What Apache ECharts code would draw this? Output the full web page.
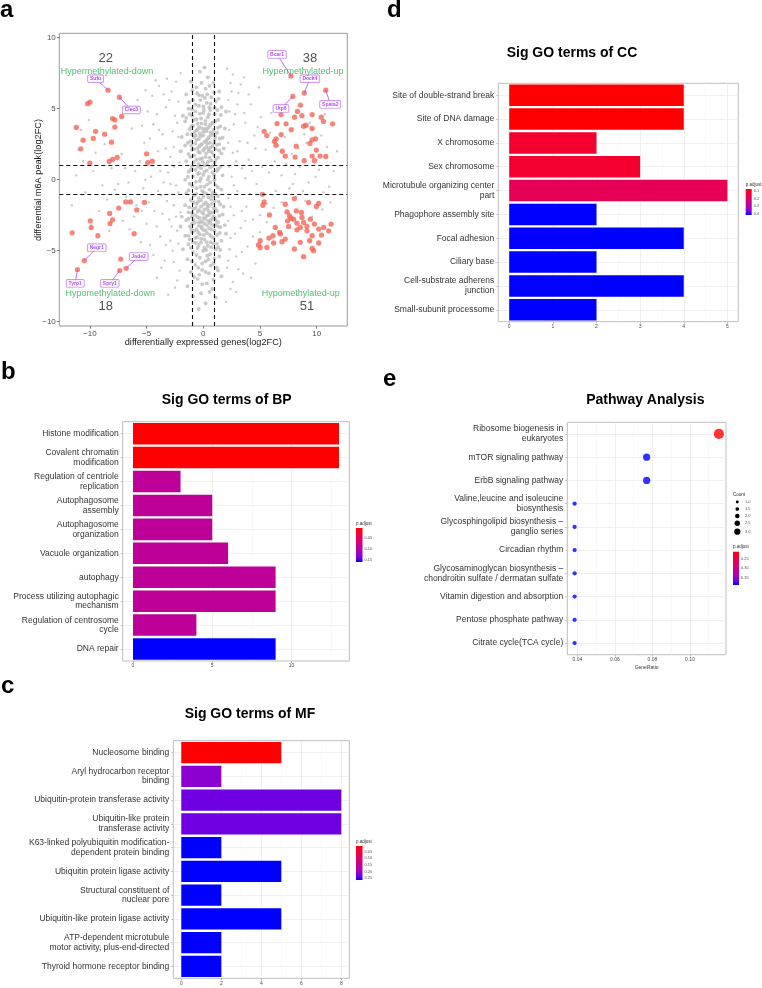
<!DOCTYPE html>
<html><head><meta charset="utf-8">
<script src="https://cdn.jsdelivr.net/npm/echarts@6/dist/echarts.min.js"></script>
<style>html,body{margin:0;padding:0;background:#fff}#c{width:762px;height:988px}</style>
</head><body><div id="c"></div>
<script>
// ---------------- Panel a data ----------------
const aTicks = [-10, -5, 0, 5, 10];
const grayDense = [
-0.3,7.6, 0.4,7.2, -1.1,6.9, 0.9,6.8, -0.6,6.5, 0.2,6.4, 1.4,6.2, -1.5,6.0, -0.1,5.9, 0.7,5.8, -0.9,5.6, 1.1,5.5, 0.3,5.4, -0.4,5.2, 1.6,5.1, -1.3,5.0, 0.6,4.9, -0.7,4.8, 0.0,4.7, 1.0,4.6, -1.0,4.5, 0.4,4.4, -0.2,4.3, 1.3,4.2, -1.6,4.1, 0.8,4.0, -0.5,3.95, 0.2,3.9, -0.9,3.8, 1.5,3.75, 0.5,3.7, -0.1,3.6, -1.2,3.55, 0.9,3.5, -0.6,3.45, 0.3,3.4, 1.2,3.3, -0.3,3.25, -1.4,3.2, 0.7,3.15, 0.0,3.1, -0.8,3.0, 1.7,2.95, 0.4,2.9, -0.4,2.85, 1.0,2.8, -1.1,2.7, 0.1,2.65, 0.6,2.6, -0.7,2.55, 1.4,2.5, -0.2,2.45, -1.6,2.4, 0.8,2.35, 0.3,2.3, -0.5,2.2, 1.1,2.15, -1.0,2.1, 0.0,2.05, 0.5,2.0, -0.3,1.9, 1.6,1.85, -1.3,1.8, 0.9,1.75, -0.8,1.7, 0.2,1.6, 1.3,1.55, -0.1,1.5, -0.6,1.4, 0.7,1.35, -1.5,1.3, 0.4,1.25, 1.0,1.2, -0.4,1.1, 0.1,1.0, -1.0,0.95, 1.5,0.9, 0.6,0.85, -0.2,0.8, -0.7,0.7, 0.3,0.65, 1.2,0.6, -1.3,0.55, 0.8,0.5, -0.5,0.4, 0.0,0.35, 1.7,0.3, -0.9,0.25, 0.5,0.2, -0.2,0.1, 1.0,0.05, -1.6,0.0,
-0.35,3.7, 0.15,3.55, 0.65,3.3, -0.65,3.1, 0.25,2.75, -0.15,2.5, 0.45,2.15, -0.45,1.95, 0.85,3.95, -0.85,4.2, 0.05,4.9, 0.55,5.1, -0.25,5.6, 0.35,6.0, -0.75,3.35, 1.05,3.0, -1.05,2.4, 0.75,1.95, -0.05,1.25, 0.95,2.55, -1.2,4.6, 1.25,4.9, -0.55,6.1, 0.1,7.9, 1.9,3.6, -1.9,3.0, 1.8,2.2, -1.8,4.5, 2.0,4.8, -2.0,2.0,
-0.15,6.8, 0.55,6.6, -0.95,6.3, 0.95,6.15, -0.4,5.95, 0.15,5.75, -1.25,5.45, 1.35,5.7, 0.65,5.35, -0.7,5.3, 0.0,5.15, 1.0,5.05, -1.0,4.95, -0.3,4.65, 0.5,4.6, 1.55,4.55, -1.5,4.35, -0.6,4.25, 0.2,4.15, 1.05,4.1, -0.15,3.95, 0.6,3.85, -1.05,3.75, 1.3,3.65, 0.35,3.6, -0.5,3.55, 0.0,3.35, 0.9,3.25, -1.0,3.2, -0.25,3.05, 0.5,3.0, 1.45,2.9, -0.6,2.8, -1.35,2.6, 0.35,2.55, 1.2,2.45, -0.35,2.35, 0.65,2.25, 0.1,2.2, -0.8,2.15, 1.4,2.05, 0.25,1.85, -1.15,1.6, 0.55,1.55, -0.3,1.45, 1.1,1.4, -0.85,1.25, 0.3,1.05, 0.8,0.95, -0.45,0.9, 1.3,0.75, -1.1,0.7, 0.1,0.55, -0.35,0.45, 0.95,0.35, -1.35,0.2, 0.4,0.0, -0.65,-0.15, 0.95,-0.05,
-0.3,-0.1, 0.6,-0.2, -1.2,-0.3, 1.1,-0.4, 0.1,-0.5, -0.6,-0.6, 1.6,-0.7, -0.1,-0.8, 0.8,-0.9, -1.5,-0.95, 0.3,-1.0, -0.8,-1.1, 1.3,-1.15, 0.0,-1.2, -0.4,-1.3, 0.7,-1.4, -1.1,-1.45, 1.0,-1.5, 0.2,-1.6, -0.6,-1.7, 1.5,-1.75, -1.6,-1.8, 0.5,-1.85, -0.2,-1.9, 0.9,-2.0, -0.9,-2.05, 0.1,-2.1, 1.2,-2.2, -0.5,-2.25, -1.3,-2.3, 0.6,-2.35, 0.0,-2.4, 1.7,-2.45, -0.7,-2.5, 0.3,-2.55, -1.0,-2.6, 1.0,-2.65, -0.3,-2.7, 0.7,-2.8, -1.5,-2.85, 0.4,-2.9, -0.1,-2.95, 1.3,-3.0, -0.8,-3.05, 0.1,-3.1, 0.8,-3.2, -0.4,-3.25, -1.2,-3.3, 1.5,-3.35, 0.5,-3.4, -0.6,-3.5, 0.0,-3.55, 1.0,-3.6, -1.0,-3.7, 0.3,-3.75, -0.3,-3.85, 1.2,-3.9, -1.6,-3.95, 0.7,-4.0, -0.7,-4.1, 0.1,-4.2, 1.6,-4.3, -0.2,-4.4, 0.9,-4.5, -1.3,-4.55, 0.4,-4.65, -0.5,-4.8, 1.1,-4.9, 0.0,-5.0, -0.9,-5.1, 0.6,-5.25, 1.4,-5.4, -0.3,-5.5, -1.4,-5.6, 0.2,-5.75, 0.9,-5.9, -0.7,-6.0, 1.2,-6.2, -0.1,-6.35, -1.1,-6.5, 0.5,-6.6, 1.6,-6.8, -0.5,-7.0, 0.3,-7.3, -1.4,-7.5, 0.8,-7.7, -0.2,-8.0, 1.1,-8.3,
-0.35,-2.15, 0.15,-2.75, 0.55,-3.05, -0.15,-3.4, 0.35,-1.75, -0.45,-1.55, 0.85,-2.6, -0.85,-2.85, 0.05,-3.9, 0.65,-4.4, -0.65,-4.45, 0.25,-4.95, -0.25,-3.0, 1.05,-3.15, -1.05,-3.5, 0.45,-2.2, -0.55,-4.05, 0.75,-1.15, -1.2,-4.2, 1.3,-4.75, -0.35,-6.7, 0.45,-5.6, 1.9,-3.2, -1.9,-2.6, 1.8,-1.9, -1.8,-4.9, 2.0,-3.8, -2.0,-3.3,
0.35,-0.35, -0.95,-0.45, 1.3,-0.55, -0.25,-0.5, 0.55,-0.7, -1.3,-0.75, 0.05,-0.9, 1.05,-1.0, -0.6,-1.0, 0.45,-1.25, -0.2,-1.45, 1.35,-1.55, -0.85,-1.6, 0.75,-1.7, 0.0,-1.75, -1.25,-1.95, 0.35,-2.0, 1.05,-2.05, -0.65,-2.0, -0.1,-2.3, 0.8,-2.3, -1.0,-2.35, 0.45,-2.5, 1.4,-2.55, -0.5,-2.65, 0.05,-2.7, -1.3,-2.75, 0.6,-2.95, 1.1,-2.85, -0.45,-3.0, -1.0,-3.1, 0.3,-3.2, 1.3,-3.3, -0.15,-3.3, 0.75,-3.5, -0.8,-3.6, 0.2,-3.55, 1.45,-3.75, -0.45,-3.7, 0.55,-3.85, -1.3,-3.95, 0.9,-4.1, -0.2,-4.15, 0.3,-4.4, -0.9,-4.4, 1.2,-4.5, -0.4,-4.6, 0.7,-4.75, -1.1,-4.8, 0.1,-4.8, 1.5,-4.95, -0.6,-5.3, 0.35,-5.35, 1.0,-5.55, -1.0,-5.75, -0.1,-5.9, 0.65,-6.05, -0.45,-6.2, 1.3,-6.4, 0.2,-6.5, -0.8,-6.85, 0.9,-7.05, -0.1,-7.35, 0.55,-7.9, -0.9,-8.2, 0.2,-8.7, -0.4,-9.1
];
const graySparse = [
-5.8,5.6, -4.9,4.8, -3.9,6.6, -2.8,6.2, -3.3,5.1, -4.4,3.9, -2.5,4.5, -3.6,3.2, -5.2,2.6, -2.2,3.0, -4.0,2.0, -2.9,1.6, -5.6,1.3, -3.1,0.5, -4.6,0.2, -2.4,-0.4, -5.3,-0.6, -3.7,-1.1, -2.6,-1.8, -4.3,-2.2, -3.0,-2.8, -5.0,-3.1, -2.3,-3.6, -3.8,-4.0, -4.7,-4.6, -2.7,-5.0, -3.4,-5.7, -2.1,-6.4, -4.1,-6.9, -2.5,-7.6, -6.1,-2.6, -5.5,-4.4, -6.3,3.6, -6.0,0.6, -3.2,7.1, -2.0,7.5, -4.5,5.9, -2.2,5.5, -2.6,2.3, -3.5,-0.2, -2.0,-2.3, -2.9,-4.3, -6.8,-1.2, -7.2,1.8, -7.5,-0.3,
2.4,6.8, 3.1,6.1, 2.2,5.6, 4.2,5.3, 2.8,4.6, 3.7,4.0, 5.1,4.4, 2.3,3.5, 4.5,3.1, 3.2,2.7, 5.5,2.1, 2.6,1.9, 4.0,1.4, 3.4,0.8, 5.8,0.5, 2.5,0.2, 4.7,-0.3, 3.0,-0.8, 5.3,-1.0, 2.2,-1.3, 3.8,-1.9, 2.7,-2.5, 4.4,-2.8, 3.3,-3.4, 5.0,-3.7, 2.4,-4.1, 3.9,-4.7, 2.9,-5.4, 4.6,-5.9, 2.1,-6.2, 3.5,-6.6, 2.6,-7.2, 6.4,-0.8, 6.9,0.3, 5.9,3.3, 6.2,-2.0, 2.1,7.8, 3.6,7.2, 2.9,-7.9, 2.0,-8.6, 4.9,6.5, 7.3,1.1, 7.6,-0.6, 6.6,2.4,
-5.1,6.3, -4.2,7.0, -3.5,6.0, -2.4,6.9, -3.0,5.6, -4.1,4.6, -2.3,4.0, -3.9,3.5, -5.4,3.8, -2.7,3.4, -4.7,2.9, -3.3,2.2, -2.1,1.2, -4.5,1.0, -3.8,0.6, -2.6,0.9, -5.1,0.0, -2.9,-0.3, -4.0,-0.8, -2.2,-0.9, -3.2,-1.5, -4.8,-1.6, -2.4,-2.6, -3.6,-2.4, -5.4,-2.2, -2.8,-3.3, -4.1,-3.3, -2.2,-4.5, -3.3,-4.6, -4.4,-5.3, -2.6,-5.8, -3.7,-6.2, -2.3,-7.1, -3.1,-8.1, -5.9,-1.8, -6.5,-3.5, -6.9,0.8,
2.6,7.4, 3.3,6.7, 2.5,6.2, 4.0,6.0, 3.0,5.3, 2.3,4.8, 3.6,4.7, 4.8,3.7, 2.7,3.9, 3.9,2.6, 2.2,2.6, 3.0,2.0, 4.6,2.2, 2.9,1.3, 4.3,0.6, 2.3,0.9, 3.7,0.1, 5.2,0.9, 2.7,-0.4, 4.1,-1.0, 2.4,-1.9, 3.4,-2.2, 5.0,-2.5, 2.2,-2.9, 3.7,-2.9, 2.8,-3.8, 4.4,-4.0, 2.3,-4.9, 3.4,-5.1, 2.2,-5.7, 3.1,-6.3, 4.2,-6.9, 2.4,-7.7, 5.6,-1.7, 6.3,1.3, 5.6,-3.0, 6.0,4.7,
-9.7,0.6, -8.9,-0.4, -10.4,-0.9, -11.2,0.3, -8.1,0.8, -9.5,1.9, -10.8,3.5, -8.5,-1.4, -7.8,-0.7, -11.6,-1.8, -9.2,-2.2, -8.7,2.5, -10.1,4.2, -7.1,-2.9, -9.9,-3.2, -11.0,2.1, -8.3,-3.6, -6.6,-0.2, -10.6,1.3,
8.1,0.4, 9.3,-0.2, 10.2,0.7, 11.1,-0.5, 8.8,-0.8, 9.9,0.2, 7.9,-0.3, 10.6,-0.9, 8.5,0.9, 11.5,0.6, 9.1,2.6, 10.4,3.1, 8.4,2.2, 9.6,3.6, 10.9,2.3, 7.2,3.0, 9.0,-1.5, 10.5,-2.1, 8.2,-1.2, 11.2,-1.6, 9.6,-2.6, 7.5,-2.4, 10.0,1.4, 11.8,2.0, 8.9,3.2, 7.8,1.8, 6.9,-1.6, 9.4,4.0, 10.7,4.6
];
const redUL = [[-8.4,6.3],[-7.4,5.8],[-10.2,5.35],[-10.0,5.45],[-7.2,4.45],[-8.0,4.3],[-7.8,4.2],[-11.2,3.67],[-7.8,3.7],[-9.5,3.4],[-10.6,2.78],[-9.7,2.9],[-8.1,2.64],[-10.8,2.17],[-5.0,1.82],[-10.0,1.17],[-8.3,1.28],[-8.0,1.42],[-7.6,1.56],[-4.9,1.19],[-4.5,1.3],[-8.7,3.2]];
const redUR = [[7.73,7.3],[8.9,6.1],[10.8,6.3],[7.9,5.86],[6.85,4.58],[8.56,5.25],[8.7,4.5],[8.05,4.4],[9.6,4.58],[8.85,3.76],[9.06,3.83],[6.5,3.95],[7.3,3.93],[7.76,3.52],[10.4,4.39],[10.6,4.1],[11.4,3.93],[9.6,3.6],[5.37,3.4],[5.6,3.1],[6.43,2.87],[6.87,3.17],[6.28,2.7],[6.4,2.42],[6.96,2.0],[8.2,2.35],[9.4,2.55],[9.9,2.87],[9.6,2.8],[7.23,1.66],[8.1,1.59],[8.9,1.33],[9.6,1.66],[9.8,1.33],[10.3,1.66],[10.8,1.63],[9.97,2.08],[8.3,4.8]];
const redLL = [[-10.5,-5.7],[-6.8,-6.24],[-7.28,-5.59],[-11.1,-6.33],[-7.37,-6.4],[-6.84,-1.57],[-6.43,-1.57],[-5.2,-1.6],[-7.46,-2.0],[-5.87,-2.13],[-8.26,-2.38],[-8.0,-2.83],[-8.23,-3.09],[-9.97,-2.9],[-9.88,-3.37],[-9.3,-3.95],[-6.1,-3.8],[-11.56,-3.74]];
const redLR = [[5.22,-1.03],[5.37,-1.57],[5.26,-1.8],[5.84,-2.48],[7.23,-1.73],[7.38,-2.27],[7.61,-2.55],[8.03,-1.33],[8.2,-2.2],[8.65,-2.31],[9.29,-1.61],[9.97,-1.89],[10.18,-1.68],[7.73,-2.73],[7.43,-2.9],[7.96,-2.78],[8.26,-3.06],[8.7,-2.66],[8.85,-3.01],[9.14,-3.29],[9.44,-2.78],[9.8,-3.13],[10.18,-3.48],[10.62,-3.36],[11.27,-3.13],[11.06,-3.6],[10.42,-3.9],[9.6,-3.95],[9.14,-3.6],[8.55,-3.36],[8.26,-3.53],[7.52,-3.29],[6.73,-3.71],[6.35,-3.36],[6.14,-3.95],[5.79,-4.11],[5.61,-4.77],[5.02,-4.3],[4.87,-4.6],[5.02,-4.79],[6.2,-4.46],[6.94,-4.37],[7.23,-4.18],[8.03,-4.88],[8.55,-4.41],[9.38,-4.3],[9.6,-4.84],[9.73,-5.0],[10.18,-4.46],[8.85,-5.42],[6.8,-3.83]];
const geneNames = ['Bcar1','Dock4','Spata2','Utp6','Sufu','Clec3','Negr1','Jade2','Tyrp1','Spry1'];
const geneLabelX = [6.5, 9.4, 11.2, 6.85, -9.5, -6.35, -9.4, -5.7, -11.3, -8.25];
const geneLabelY = [8.8, 7.1, 5.3, 5.0, 7.1, 4.9, -4.8, -5.4, -7.3, -7.3];
const genePointX = [7.73, 8.9, 10.8, 7.9, -8.4, -7.4, -10.5, -6.8, -11.1, -7.37];
const genePointY = [7.3, 6.1, 6.3, 5.86, 6.3, 5.8, -5.7, -6.24, -6.33, -6.4];
const quadCounts = ['22', '38', '18', '51'];
const quadNames = ['Hypermethylated-down', 'Hypermethylated-up', 'Hypomethylated-down', 'Hypomethylated-up'];
const quadCountX = [-8.6, 9.4, -8.6, 9.15];
const quadCountY = [8.5, 8.5, -8.9, -8.9];
const quadNameX = [-8.5, 8.8, -8.2, 8.6];
const quadNameY = [7.6, 7.6, -8.0, -8.0];

// ---------------- Panel b (BP) ----------------
const bpTerms = ['Histone modification','Covalent chromatin\nmodification','Regulation of centriole\nreplication','Autophagosome\nassembly','Autophagosome\norganization','Vacuole organization','autophagy','Process utilizing autophagic\nmechanism','Regulation of centrosome\ncycle','DNA repair'];
const bpCount = [13, 13, 3, 5, 5, 6, 9, 9, 4, 9];
const bpPadj = [0.003, 0.003, 0.092, 0.092, 0.092, 0.092, 0.092, 0.092, 0.092, 0.159];
const bpTicks = [0, 5, 10];
const bpLegendTicks = [0.05, 0.10, 0.15];

// ---------------- Panel c (MF) ----------------
const mfTerms = ['Nucleosome binding','Aryl hydrocarbon receptor\nbinding','Ubiquitin-protein transferase activity','Ubiquitin-like protein\ntransferase activity','K63-linked polyubiquitin modification-\ndependent protein binding','Ubiquitin protein ligase activity','Structural constituent of\nnuclear pore','Ubiquitin-like protein ligase activity','ATP-dependent microtubule\nmotor activity, plus-end-directed','Thyroid hormone receptor binding'];
const mfCount = [5, 2, 8, 8, 2, 5, 2, 5, 2, 2];
const mfPadj = [0.007, 0.212, 0.232, 0.232, 0.263, 0.263, 0.263, 0.263, 0.263, 0.263];
const mfTicks = [0, 2, 4, 6, 8];
const mfLegendTicks = [0.05, 0.10, 0.15, 0.20, 0.25];

// ---------------- Panel d (CC) ----------------
const ccTerms = ['Site of double-strand break','Site of DNA damage','X chromosome','Sex chromosome','Microtubule organizing center\npart','Phagophore assembly site','Focal adhesion','Ciliary base','Cell-substrate adherens\njunction','Small-subunit processome'];
const ccCount = [4, 4, 2, 3, 5, 2, 4, 2, 4, 2];
const ccPadj = [0.07, 0.07, 0.112, 0.112, 0.165, 0.42, 0.42, 0.42, 0.42, 0.42];
const ccTicks = [0, 1, 2, 3, 4, 5];
const ccLegendTicks = [0.1, 0.2, 0.3, 0.4];

// ---------------- Panel e (pathway) ----------------
const pathTerms = ['Ribosome biogenesis in\neukaryotes','mTOR signaling pathway','ErbB signaling pathway','Valine,leucine and isoleucine\nbiosynthesis','Glycosphingolipid biosynthesis \u2013\nganglio series','Circadian rhythm','Glycosaminoglycan biosynthesis \u2013\nchondroitin sulfate / dermatan sulfate','Vitamin digestion and absorption','Pentose phosphate pathway','Citrate cycle(TCA cycle)'];
const pathRatio = [0.1154, 0.0769, 0.0769, 0.0385, 0.0385, 0.0385, 0.0385, 0.0385, 0.0385, 0.0385];
const pathCount = [3, 2, 2, 1, 1, 1, 1, 1, 1, 1];
const pathPadj = [0.214, 0.39, 0.39, 0.39, 0.39, 0.39, 0.39, 0.39, 0.39, 0.39];
const pathTicks = [0.04, 0.06, 0.08, 0.10];
const pathLegendTicks = [0.25, 0.30, 0.35];
const countLegend = [1.0, 1.5, 2.0, 2.5, 3.0];

// ---------------- styling ----------------
const FONT = '"Liberation Sans", Arial, Helvetica, sans-serif';
const PADJ_COLORS = ['#FF0000','#F40031','#E80050','#DA006C','#C90089','#B500A5','#9A00C2','#7300E0','#0000FF'];
const GRID_MAJOR = '#ebebeb', GRID_MINOR = '#f5f5f5';

function pairs(flat) { const o = []; for (let i = 0; i < flat.length; i += 2) o.push([flat[i], flat[i + 1]]); return o; }
const minusFmt = v => (v < 0 ? '\u2212' + Math.abs(v) : String(v));

const chart = echarts.init(document.getElementById('c'), null, { renderer: 'canvas' });

const grids = [
  { left: 59.3, top: 33.3, width: 288, height: 292.7, borderColor: '#9a9a9a' },
  { left: 122.7, top: 421.7, width: 226.6, height: 239.3, borderColor: '#bdbdbd' },
  { left: 173.3, top: 740.7, width: 176, height: 237.6, borderColor: '#bdbdbd' },
  { left: 498.3, top: 83.3, width: 240, height: 238.4, borderColor: '#bdbdbd' },
  { left: 567.3, top: 422.3, width: 158.7, height: 232.4, borderColor: '#bdbdbd' }
].map(g => Object.assign({ show: true, borderWidth: 1, backgroundColor: '#fff', containLabel: false }, g));

const noLine = { show: false, onZero: false };

function barValueAxis(gi, min, max, ticks, splitNumber, fmt) {
  return {
    type: 'value', gridIndex: gi, min, max, splitNumber,
    axisLine: noLine,
    axisTick: { show: true, customValues: ticks, length: 2, lineStyle: { color: '#999', width: 0.6 } },
    axisLabel: { customValues: ticks, fontSize: 5, color: '#4d4d4d', margin: 2.5, fontFamily: FONT, formatter: fmt || (v => String(v)) },
    splitLine: { show: true, lineStyle: { color: GRID_MAJOR, width: 0.8 } },
    minorTick: { show: false, splitNumber: 2 },
    minorSplitLine: { show: true, lineStyle: { color: GRID_MINOR, width: 0.6 } }
  };
}
function catAxis(gi, terms) {
  return {
    type: 'category', gridIndex: gi, data: terms, inverse: true,
    axisLine: noLine,
    axisTick: { show: true, alignWithLabel: true, length: 2, lineStyle: { color: '#999', width: 0.6 } },
    axisLabel: { interval: 0, fontSize: 8.5, lineHeight: 9.6, color: '#333', margin: 4, fontFamily: FONT },
    splitLine: { show: true, alignWithLabel: true, lineStyle: { color: GRID_MAJOR, width: 0.8 } }
  };
}

const xAxes = [
  { type: 'value', gridIndex: 0, min: -12.7, max: 12.7,
    axisLine: noLine,
    axisTick: { show: true, customValues: aTicks, length: 2.5, lineStyle: { color: '#444', width: 0.7 } },
    axisLabel: { customValues: aTicks, fontSize: 8, color: '#4d4d4d', margin: 3.5, fontFamily: FONT, formatter: minusFmt },
    splitLine: { show: false } },
  barValueAxis(1, -0.65, 13.65, bpTicks, 3),
  barValueAxis(2, -0.4, 8.4, mfTicks, 5),
  barValueAxis(3, -0.25, 5.25, ccTicks, 5),
  barValueAxis(4, 0.0346, 0.1192, pathTicks, 5, v => v.toFixed(2))
];
const yAxes = [
  { type: 'value', gridIndex: 0, min: -10.3, max: 10.3,
    axisLine: noLine,
    axisTick: { show: true, customValues: aTicks, length: 2.5, lineStyle: { color: '#444', width: 0.7 } },
    axisLabel: { customValues: aTicks, fontSize: 8, color: '#4d4d4d', margin: 3.5, fontFamily: FONT, formatter: minusFmt },
    splitLine: { show: false } },
  catAxis(1, bpTerms),
  catAxis(2, mfTerms),
  catAxis(3, ccTerms),
  catAxis(4, pathTerms)
];

const redAll = redUL.concat(redUR, redLL, redLR);

const series = [
  { type: 'scatter', name: 'graySparse', xAxisIndex: 0, yAxisIndex: 0, data: pairs(graySparse), symbolSize: 2.4, itemStyle: { color: '#bdbdbd' }, silent: true, z: 1 },
  { type: 'scatter', name: 'grayDense', xAxisIndex: 0, yAxisIndex: 0, data: pairs(grayDense), symbolSize: 3.9, itemStyle: { color: '#bdbdbd' }, silent: true, z: 1 },
  { type: 'scatter', name: 'sig', xAxisIndex: 0, yAxisIndex: 0, data: redAll, symbolSize: 5.3, itemStyle: { color: '#F26757' }, silent: true, z: 3,
    markLine: { silent: true, symbol: ['none', 'none'], label: { show: false },
      lineStyle: { color: '#111', type: [4, 3], width: 1.1 },
      data: [{ xAxis: -1 }, { xAxis: 1 }, { yAxis: -1 }, { yAxis: 1 }] } },
  { type: 'lines', coordinateSystem: 'cartesian2d', xAxisIndex: 0, yAxisIndex: 0, silent: true, z: 4,
    lineStyle: { color: '#b04ce8', width: 0.8, opacity: 1 },
    data: geneNames.map((n, i) => ({ coords: [[geneLabelX[i], geneLabelY[i]], [genePointX[i], genePointY[i]]] })) },
  { type: 'scatter', name: 'geneLabels', xAxisIndex: 0, yAxisIndex: 0, silent: true, z: 5,
    symbolSize: 1, itemStyle: { color: 'rgba(0,0,0,0)' },
    data: geneNames.map((n, i) => ({ name: n, value: [geneLabelX[i], geneLabelY[i]] })),
    label: { show: true, position: 'inside', formatter: '{b}', fontSize: 5, fontWeight: 'bold', color: '#a020f0', fontFamily: FONT,
      backgroundColor: '#fff', borderColor: '#b45ae8', borderWidth: 0.7, borderRadius: 1, padding: [1.3, 2, 0.8, 2], textBorderWidth: 0 } },
  { type: 'scatter', name: 'quadText', xAxisIndex: 0, yAxisIndex: 0, silent: true, z: 5,
    symbolSize: 1, itemStyle: { color: 'rgba(0,0,0,0)' },
    data: quadCounts.map((c, i) => ({ name: c, value: [quadCountX[i], quadCountY[i]],
      label: { show: true, position: 'inside', formatter: '{b}', fontSize: 13, color: '#222', fontFamily: FONT, textBorderWidth: 0 } }))
      .concat(quadNames.map((c, i) => ({ name: c, value: [quadNameX[i], quadNameY[i]],
      label: { show: true, position: 'inside', formatter: '{b}', fontSize: 9, color: '#22b14c', fontFamily: FONT, textBorderWidth: 0 } }))) },
  { type: 'bar', name: 'BP', xAxisIndex: 1, yAxisIndex: 1, barCategoryGap: '10%', silent: true,
    data: bpTerms.map((t, i) => [bpCount[i], t, bpPadj[i]]), encode: { x: 0, y: 1 } },
  { type: 'bar', name: 'MF', xAxisIndex: 2, yAxisIndex: 2, barCategoryGap: '10%', silent: true,
    data: mfTerms.map((t, i) => [mfCount[i], t, mfPadj[i]]), encode: { x: 0, y: 1 } },
  { type: 'bar', name: 'CC', xAxisIndex: 3, yAxisIndex: 3, barCategoryGap: '10%', silent: true,
    data: ccTerms.map((t, i) => [ccCount[i], t, ccPadj[i]]), encode: { x: 0, y: 1 } },
  { type: 'scatter', name: 'KEGG', xAxisIndex: 4, yAxisIndex: 4, silent: true, z: 3,
    data: pathTerms.map((t, i) => [pathRatio[i], t, pathCount[i], pathPadj[i]]), encode: { x: 0, y: 1 },
    symbolSize: d => 1.4 + 2.9 * d[2] }
];

const visualMaps = [
  { type: 'continuous', show: false, seriesIndex: 6, dimension: 2, min: 0.003, max: 0.159, inRange: { color: PADJ_COLORS } },
  { type: 'continuous', show: false, seriesIndex: 7, dimension: 2, min: 0.007, max: 0.263, inRange: { color: PADJ_COLORS } },
  { type: 'continuous', show: false, seriesIndex: 8, dimension: 2, min: 0.07, max: 0.42, inRange: { color: PADJ_COLORS } },
  { type: 'continuous', show: false, seriesIndex: 9, dimension: 3, min: 0.214, max: 0.39, inRange: { color: PADJ_COLORS } }
];

// ---------------- graphic (titles, letters, legends) ----------------
function txt(x, y, text, size, opts) {
  return { type: 'text', x, y, silent: true, z: 100,
    style: Object.assign({ text, fontSize: size, fontFamily: FONT, fill: '#000', align: 'center', verticalAlign: 'middle',
      textAlign: 'center', textVerticalAlign: 'middle' }, opts || {}) };
}
function colorbar(x, y, w, h, min, max, ticks, title, fmt) {
  const els = [];
  els.push(txt(x, y - 4.5, title, 4.5, { align: 'left', textAlign: 'left', fill: '#333' }));
  els.push({ type: 'rect', silent: true, z: 100, shape: { x, y, width: w, height: h },
    style: { fill: new echarts.graphic.LinearGradient(0, 0, 0, 1, PADJ_COLORS.map((c, i) => ({ offset: i / (PADJ_COLORS.length - 1), color: c }))) } });
  ticks.forEach(v => {
    const ty = y + (v - min) / (max - min) * h;
    els.push(txt(x + w + 2, ty, fmt(v), 4, { align: 'left', textAlign: 'left', fill: '#555' }));
  });
  return els;
}
const g = [];
[['a', 0, 10], ['b', 1, 372], ['c', 1, 686], ['d', 387, 10], ['e', 383, 379]].forEach(([t, x, y]) =>
  g.push(txt(x, y, t, 24, { fontWeight: 'bold', align: 'left', textAlign: 'left' })));
g.push(txt(226.7, 400, 'Sig GO terms of BP', 14, { fontWeight: 'bold' }));
g.push(txt(250, 714, 'Sig GO terms of MF', 14, { fontWeight: 'bold' }));
g.push(txt(572, 53, 'Sig GO terms of CC', 14, { fontWeight: 'bold' }));
g.push(txt(645.3, 400, 'Pathway Analysis', 14, { fontWeight: 'bold' }));
g.push(txt(203.3, 342.5, 'differentially expressed genes(log2FC)', 9.2, { fill: '#222' }));
{ const t = txt(38, 180, 'differential m6A peak(log2FC)', 9.2, { fill: '#222' }); t.rotation = Math.PI / 2; g.push(t); }
g.push(txt(646.6, 668, 'GeneRatio', 5, { fill: '#333' }));
colorbar(356, 528, 6.5, 34, 0.003, 0.159, bpLegendTicks, 'p.adjust', v => v.toFixed(2)).forEach(e => g.push(e));
colorbar(356, 846, 6.5, 34, 0.007, 0.263, mfLegendTicks, 'p.adjust', v => v.toFixed(2)).forEach(e => g.push(e));
colorbar(745.7, 189, 6, 26, 0.07, 0.42, ccLegendTicks, 'p.adjust', v => v.toFixed(1)).forEach(e => g.push(e));
colorbar(733, 551.7, 6, 33.3, 0.214, 0.39, pathLegendTicks, 'p.adjust', v => v.toFixed(2)).forEach(e => g.push(e));
g.push(txt(733, 494.5, 'Count', 4.5, { align: 'left', textAlign: 'left', fill: '#333' }));
const countLegendY = [502, 509, 516, 523.3, 531.7];
countLegend.forEach((c, i) => {
  const r = (1.0 + 1.25 * c) / 2 * 1.3;
  g.push({ type: 'circle', silent: true, z: 100, shape: { cx: 737.3, cy: countLegendY[i], r }, style: { fill: '#000' } });
  g.push(txt(745, countLegendY[i], c.toFixed(1), 4, { align: 'left', textAlign: 'left', fill: '#555' }));
});

chart.setOption({
  animation: false,
  backgroundColor: '#fff',
  textStyle: { fontFamily: FONT },
  grid: grids,
  xAxis: xAxes,
  yAxis: yAxes,
  visualMap: visualMaps,
  series,
  graphic: { elements: g }
});
</script></body></html>
